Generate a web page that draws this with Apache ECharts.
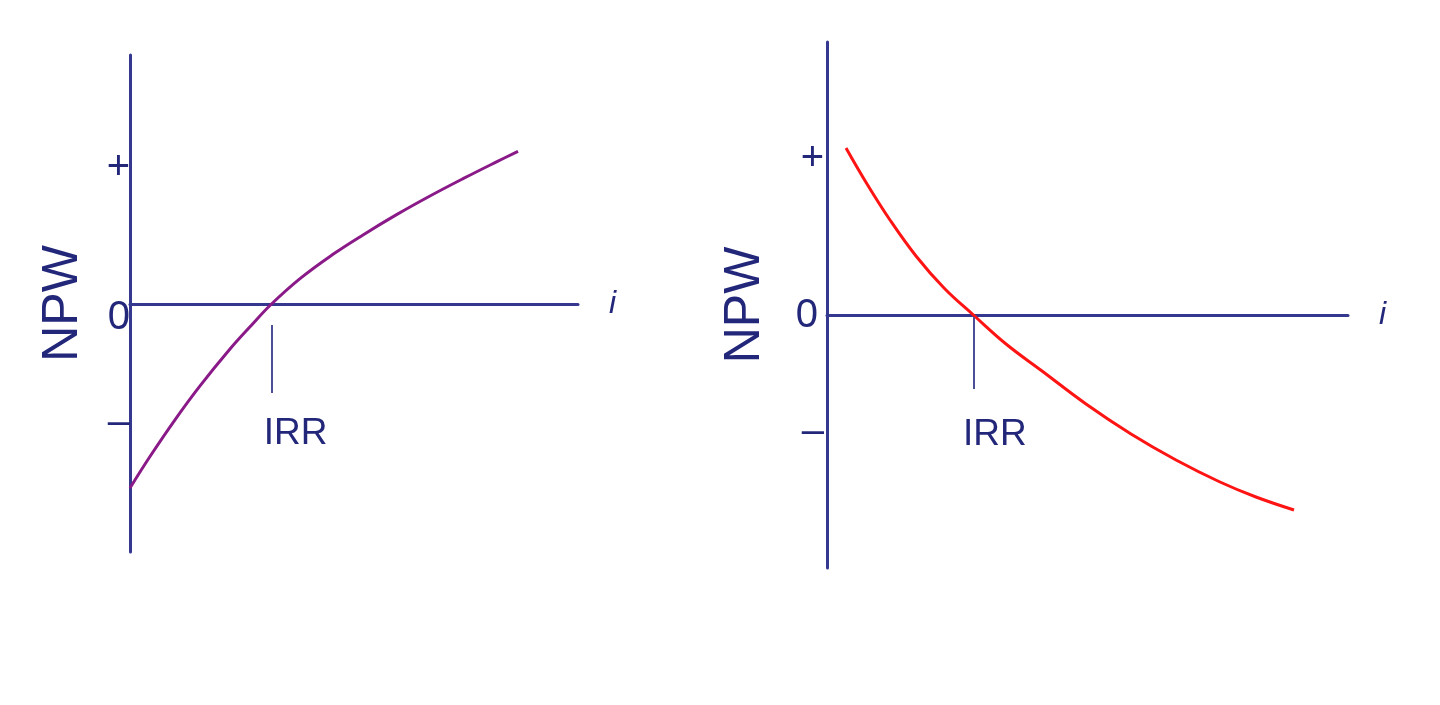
<!DOCTYPE html>
<html>
<head>
<meta charset="utf-8">
<script src="https://cdn.jsdelivr.net/npm/echarts@6/dist/echarts.min.js"></script>
<style>
html,body{margin:0;padding:0;background:#fff;}
#c{width:1440px;height:705px;}
</style>
</head>
<body>
<div id="c"></div>
<script>
// Left panel: NPW rising with i (purple)
const leftI   = [0, 4.46, 10.04, 15.63, 22.32, 26.79, 31.47, 37.95, 45.31, 52.01, 59.6, 66.96, 74.33, 81.92, 86.61];
const leftNPW = [-18.35, -15.2, -11.53, -8.14, -4.45, -2.23, 0, 2.59, 5.02, 6.96, 9.01, 10.85, 12.58, 14.29, 15.32];
const leftIRR = 31.6;
const leftTickValues = [-11.85, 0, 13.65];

// Right panel: NPW falling with i (red)
const rightI   = [3.65, 7.68, 12.09, 17.08, 22.46, 28.21, 34.36, 41.27, 49.71, 58.35, 66.99, 75.43, 82.34, 89.64];
const rightNPW = [16.75, 13.15, 9.55, 5.95, 2.75, 0, -2.85, -5.55, -8.85, -11.85, -14.45, -16.65, -18.15, -19.45];
const rightIRR = 28.2;
const rightTickValues = [-11.65, 0, 15.65];

const tickLabels = ['\u2013', '0', '+'];
const axisName = 'NPW';
const xName = 'i';
const irrLabel = 'IRR';

const navyText = '#23277a';
const navyLine = '#34388f';
const font = 'Liberation Sans, Arial, sans-serif';

function zip(a, b) { return a.map((v, k) => [v, b[k]]); }

function yAxisFor(gridIndex, min, max, values, nameGap, margin, zeroPad) {
  const keys = ['m', 'z', 'p'];
  return {
    type: 'value', gridIndex, min, max,
    name: axisName, nameLocation: 'middle', nameRotate: 90, nameGap,
    nameTextStyle: { color: navyText, fontSize: 50, fontFamily: font },
    axisLine: { show: true, lineStyle: { color: navyLine, width: 3 } },
    axisTick: { show: false },
    splitLine: { show: false },
    axisLabel: {
      customValues: values, margin,
      color: navyText, fontSize: 40, fontFamily: font,
      formatter: v => { const k = values.indexOf(v); return k >= 0 ? '{' + keys[k] + '|' + tickLabels[k] + '}' : ''; },
      rich: {
        m: { color: navyText, fontSize: 40, fontFamily: font },
        p: { color: navyText, fontSize: 40, fontFamily: font },
        z: { color: navyText, fontSize: 40, fontFamily: font, padding: zeroPad }
      }
    }
  };
}
function xAxisFor(gridIndex) {
  return {
    type: 'value', gridIndex, min: 0, max: 100,
    name: xName, nameLocation: 'end', nameGap: 31,
    nameTextStyle: { color: navyText, fontSize: 32, fontStyle: 'italic', fontFamily: font, verticalAlign: 'middle', padding: [6, 0, 0, 0] },
    axisLine: { show: true, onZero: true, lineStyle: { color: navyLine, width: 3 } },
    axisTick: { show: false }, axisLabel: { show: false }, splitLine: { show: false }
  };
}
function irrMark(irr, y1, y2, dist, shift) {
  return {
    silent: true, symbol: 'none',
    lineStyle: { color: '#4b4f95', width: 2, type: 'solid' },
    label: {
      show: true, position: 'end', distance: dist,
      formatter: '{a|' + irrLabel + '}',
      rich: { a: { color: navyText, fontSize: 37, fontFamily: font, padding: [0, 0, 0, shift] } }
    },
    data: [[{ coord: [irr, y1] }, { coord: [irr, y2] }]]
  };
}

const chart = echarts.init(document.getElementById('c'), null, { renderer: 'canvas' });
chart.setOption({
  animation: false,
  backgroundColor: '#ffffff',
  grid: [
    { left: 130, top: 55, width: 448, height: 497 },
    { left: 827, top: 42, width: 521, height: 526 }
  ],
  xAxis: [xAxisFor(0), xAxisFor(1)],
  yAxis: [
    yAxisFor(0, -24.75, 24.95, leftTickValues, 42, 0, [26, 0, 0, 0]),
    yAxisFor(1, -25.25, 27.35, rightTickValues, 57, 3, [0, 6, 0, 0])
  ],
  series: [
    {
      type: 'line', xAxisIndex: 0, yAxisIndex: 0, smooth: 0.4, showSymbol: false,
      lineStyle: { color: '#8b1a89', width: 3 },
      data: zip(leftI, leftNPW),
      markLine: irrMark(leftIRR, -2.05, -8.85, 22, 48)
    },
    {
      type: 'line', xAxisIndex: 1, yAxisIndex: 1, smooth: 0.4, showSymbol: false,
      lineStyle: { color: '#ff1414', width: 3 },
      data: zip(rightI, rightNPW),
      markLine: irrMark(rightIRR, -0.15, -7.35, 27, 42)
    }
  ]
});
</script>
</body>
</html>
